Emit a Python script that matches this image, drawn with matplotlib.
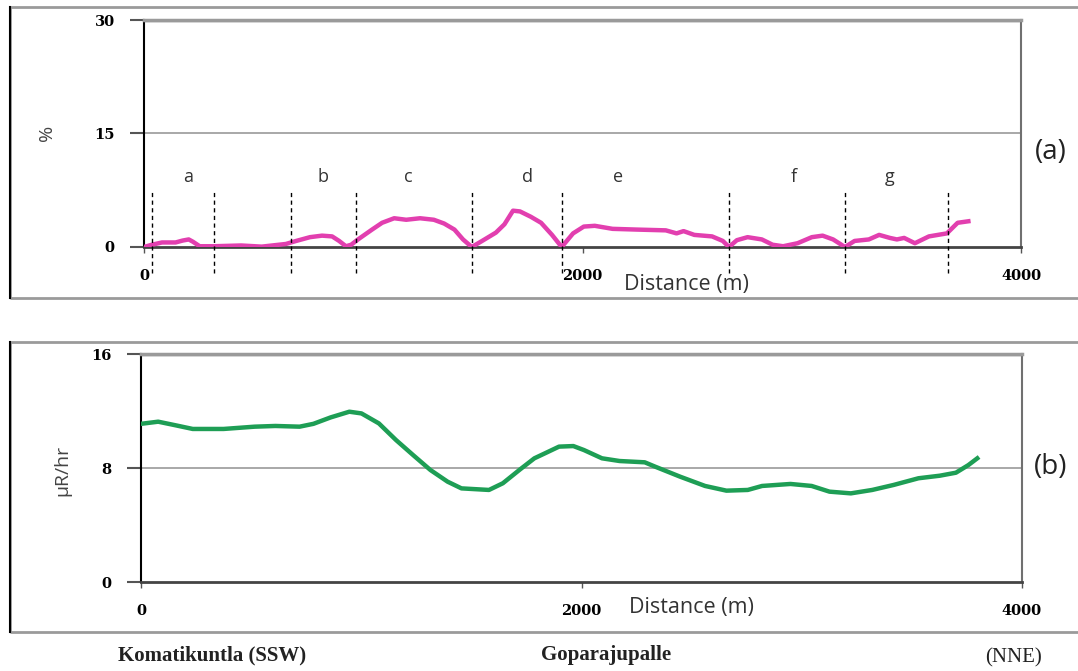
import matplotlib
matplotlib.use("Agg")
import matplotlib.pyplot as plt
from matplotlib.patches import Rectangle

# (a) percentage profile
dist_a = [0, 36, 82, 144, 176, 204, 223, 254, 317, 443, 537, 647, 694, 757, 812, 858,
          890, 921, 945, 976, 1040, 1086, 1141, 1196, 1259, 1322, 1369, 1416, 1455, 1495,
          1542, 1605, 1644, 1683, 1715, 1764, 1811, 1861, 1905, 1957, 2006, 2056, 2137,
          2250, 2380, 2429, 2461, 2510, 2591, 2640, 2668, 2704, 2753, 2818, 2867, 2915,
          2981, 3046, 3095, 3143, 3197, 3241, 3306, 3353, 3402, 3434, 3467, 3516, 3580,
          3662, 3711, 3760]
pct_a = [0.0, 0.3, 0.6, 0.6, 0.85, 1.0, 0.7, 0.1, 0.1, 0.2, 0.05, 0.4, 0.8, 1.3, 1.5, 1.4,
         0.8, 0.1, 0.3, 1.0, 2.3, 3.2, 3.8, 3.6, 3.8, 3.6, 3.1, 2.3, 1.0, 0.0,
         0.8, 1.9, 3.0, 4.8, 4.7, 4.0, 3.2, 1.6, 0.0, 1.8, 2.7, 2.8, 2.4,
         2.3, 2.2, 1.8, 2.1, 1.6, 1.4, 0.8, 0.0, 0.9, 1.3, 1.0, 0.3, 0.1,
         0.5, 1.3, 1.5, 1.0, 0.0, 0.8, 1.0, 1.6, 1.2, 1.0, 1.2, 0.5, 1.4,
         1.8, 3.2, 3.4]

# zone boundaries and labels
bounds = [36, 319, 670, 967, 1496, 1906, 2668, 3197, 3667]
zone_names = ["a", "b", "c", "d", "e", "f", "g"]
zone_pos = [201, 816, 1204, 1747, 2162, 2962, 3403]

# (b) dose rate profile
dist_b = [0, 78, 156, 235, 375, 516, 610, 720, 783, 861, 946, 1001, 1080, 1158, 1236,
          1314, 1392, 1455, 1580, 1643, 1721, 1786, 1834, 1898, 1963, 2011, 2093, 2173,
          2287, 2335, 2448, 2561, 2658, 2755, 2820, 2949, 3045, 3126, 3223, 3320, 3417,
          3530, 3627, 3700, 3756, 3797]
dose_b = [11.1, 11.25, 11.0, 10.74, 10.74, 10.9, 10.95, 10.9, 11.1, 11.55, 11.95, 11.83,
          11.13, 9.96, 8.9, 7.86, 7.04, 6.57, 6.46, 6.93, 7.9, 8.68, 9.03, 9.5, 9.54, 9.26,
          8.68, 8.49, 8.4, 8.09, 7.39, 6.74, 6.41, 6.46, 6.74, 6.88, 6.74, 6.34, 6.22, 6.46,
          6.81, 7.28, 7.46, 7.67, 8.2, 8.68]

W, H = 1078, 671
fig = plt.figure(figsize=(W / 100, H / 100), dpi=100)

def fx(px):
    return px / W

def fy(py):
    return 1 - py / H

# panel frames
for top, bot in [(7, 298), (342, 632)]:
    fig.patches.append(Rectangle((fx(10), fy(bot)), fx(1100), fy(top) - fy(bot),
                                 transform=fig.transFigure, fill=False,
                                 edgecolor="#9a9a9a", lw=2))
    fig.add_artist(plt.Line2D([fx(10), fx(10)], [fy(top), fy(bot)],
                              transform=fig.transFigure, color="black", lw=1.5))

tick_font = dict(family="DejaVu Serif", weight="heavy", size=10.5)
lab_font = "Open Sans"

def style_axes(ax, ymax, yticks):
    ax.set_xlim(0, 4000)
    ax.set_ylim(0, ymax)
    ax.set_xticks([0, 2000, 4000])
    ax.set_yticks(yticks)
    ax.set_xticklabels(["0", "2000", "4000"], **tick_font)
    ax.set_yticklabels([str(t) for t in yticks], **tick_font)
    ax.tick_params(axis="y", length=10, width=1.5, color="#555555", pad=11)
    ax.tick_params(axis="x", length=4, width=1, color="#555555", pad=12)
    for t in yticks[1:]:
        ax.axhline(t, color="#9a9a9a", lw=1.2 if t < ymax else 2.5, zorder=1)
    ax.spines["left"].set_color("black")
    ax.spines["left"].set_linewidth(1.5)
    ax.spines["bottom"].set_color("#444444")
    ax.spines["bottom"].set_linewidth(2)
    ax.spines["top"].set_color("#9a9a9a")
    ax.spines["top"].set_linewidth(2.5)
    ax.spines["right"].set_color("#707070")
    ax.spines["right"].set_linewidth(1.5)

# top panel
ax1 = fig.add_axes([fx(144), fy(247), fx(1021 - 144), fy(20) - fy(247)])
style_axes(ax1, 30, [0, 15, 30])
ax1.plot(dist_a, pct_a, color="#E23FAF", lw=3.2, solid_joinstyle="round", zorder=3)
for b in bounds:
    ax1.plot([b, b], [-3.4, 7.6], color="black", lw=1, ls=(0, (3, 2.5)),
             clip_on=False, zorder=4)
for name, pos in zip(zone_names, zone_pos):
    ax1.text(pos, 9.2, name, ha="center", va="center", fontsize=13,
             family=lab_font, color="#333333")

# bottom panel
ax2 = fig.add_axes([fx(141), fy(582), fx(1022 - 141), fy(354) - fy(582)])
style_axes(ax2, 16, [0, 8, 16])
ax2.plot(dist_b, dose_b, color="#1E9E55", lw=3.2, solid_joinstyle="round", zorder=3)

fig.text(fx(47), fy(133), "%", rotation=90, ha="center", va="center",
         family=lab_font, fontsize=14, color="#444444")
fig.text(fx(62), fy(470), "µR/hr", rotation=90, ha="center", va="center",
         family=lab_font, fontsize=14, color="#444444")

fig.text(fx(686), fy(285), "Distance (m)", ha="center", va="center",
         family=lab_font, fontsize=15.5, color="#333333")
fig.text(fx(691), fy(608), "Distance (m)", ha="center", va="center",
         family=lab_font, fontsize=15.5, color="#333333")
fig.text(fx(1051), fy(152), "(a)", ha="center", va="center",
         family=lab_font, fontsize=20, color="#222222")
fig.text(fx(1051), fy(467), "(b)", ha="center", va="center",
         family=lab_font, fontsize=20, color="#222222")

loc_font = dict(family="Liberation Serif", fontsize=15, color="#222222")
fig.text(fx(118), fy(655), "Komatikuntla (SSW)", ha="left", va="center",
         weight="bold", **loc_font)
fig.text(fx(541), fy(655), "Goparajupalle", ha="left", va="center",
         weight="bold", **loc_font)
fig.text(fx(985), fy(658), "(NNE)", ha="left", va="center", **loc_font)

fig.savefig("out.png", dpi=100)
